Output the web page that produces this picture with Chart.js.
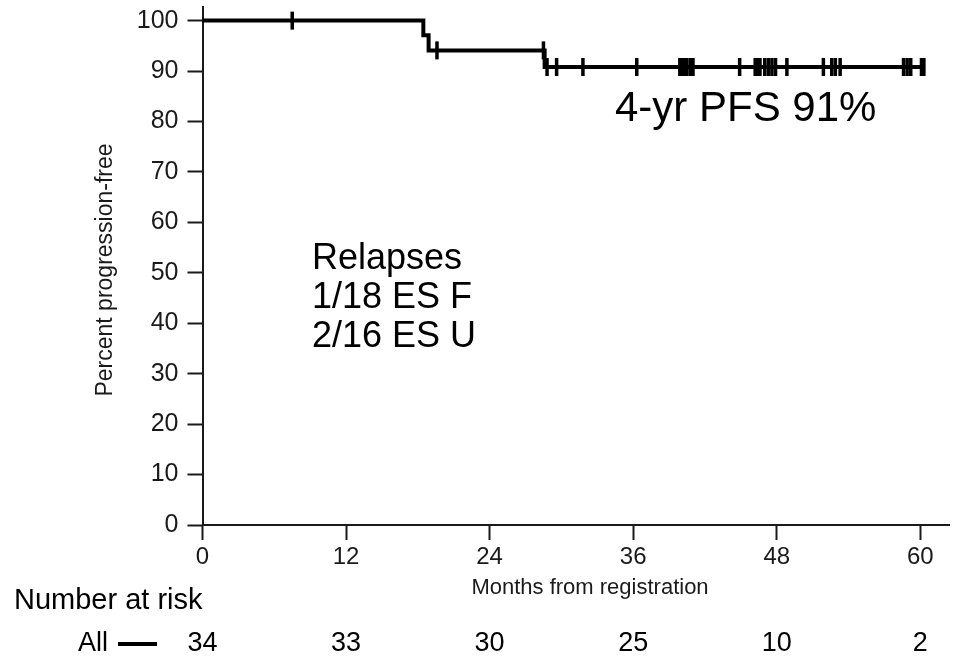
<!DOCTYPE html>
<html>
<head>
<meta charset="utf-8">
<script src="https://cdn.jsdelivr.net/npm/chart.js@4/dist/chart.umd.min.js"></script>
<style>
  body { margin: 0; background: #fff; }
  #km { display: block; }
</style>
</head>
<body>
<canvas id="km" width="960" height="663"></canvas>
<script>
// Kaplan-Meier steps (month of drop, percent after it)
const stepMonths = [0, 18.46, 18.9, 28.6, 60.4]
const stepPct = [100, 97.1, 94.1, 90.8, 90.8]

// censoring marks (months)
const censorMonths = [7.5, 19.6, 28.5, 28.8, 29.6, 31.8, 36.3,
  39.9, 40.1, 40.3, 40.5, 40.8, 41.0, 44.9, 46.2, 46.4, 46.6,
  47.0, 47.3, 47.6, 47.9, 48.85, 51.9, 52.6, 52.9, 53.3,
  58.6, 58.9, 59.2, 60.1, 60.3]

const xTicks = [0, 12, 24, 36, 48, 60]
const yTicks = [0, 10, 20, 30, 40, 50, 60, 70, 80, 90, 100]
const atRisk = [34, 33, 30, 25, 10, 2]

const relapseLines = ["Relapses", "1/18 ES F", "2/16 ES U"]
const pfsLabel = "4-yr PFS 91%"

const FONT = "'Liberation Sans', Arial, sans-serif"
const INK = '#1a1a1a'

// level of the curve at a given month (last step at or before it)
function levelAt(m) {
    let v = stepPct[0]
    stepMonths.forEach((t, i) => { if (t <= m) v = stepPct[i] })
    return v
}

const textPlugin = {
    id: 'kmText',
    afterDraw(chart) {
        const { ctx } = chart
        const x = chart.scales.x
        ctx.save()
        ctx.fillStyle = '#000'

        // annotations inside the plot
        ctx.textAlign = 'left'
        ctx.textBaseline = 'alphabetic'
        ctx.font = `42px ${FONT}`
        ctx.fillText(pfsLabel, 615, 121)

        ctx.font = `36px ${FONT}`
        relapseLines.forEach((t, i) => ctx.fillText(t, 312, 269 + i * 39))

        // axis titles
        ctx.fillStyle = INK
        ctx.font = `22px ${FONT}`
        ctx.textAlign = 'center'
        ctx.fillText('Months from registration', 590, 594)

        ctx.save()
        ctx.translate(112, 270)
        ctx.rotate(-Math.PI / 2)
        ctx.font = `23px ${FONT}`
        ctx.fillText('Percent progression-free', 0, 0)
        ctx.restore()

        // number at risk table
        ctx.fillStyle = '#000'
        ctx.font = `29px ${FONT}`
        ctx.textAlign = 'left'
        ctx.fillText('Number at risk', 14, 609)
        ctx.font = `27px ${FONT}`
        ctx.textAlign = 'right'
        ctx.fillText('All', 108, 651)
        ctx.fillRect(118, 642, 39, 4)
        ctx.textAlign = 'center'
        atRisk.forEach((n, i) => {
            ctx.fillText(String(n), x.getPixelForValue(xTicks[i]), 651)
        })
        ctx.restore()
    }
}

new Chart(document.getElementById('km'), {
    type: 'line',
    data: {
        datasets: [{
            label: 'All',
            data: stepMonths.map((m, i) => ({ x: m, y: stepPct[i] })),
            stepped: 'before',
            borderColor: '#000',
            borderWidth: 4,
            pointRadius: 0,
            fill: false
        }, {
            label: 'Censored',
            data: censorMonths.map(m => ({ x: m, y: levelAt(m) })),
            showLine: false,
            pointStyle: 'line',
            rotation: 90,
            pointRadius: 9,
            pointBorderWidth: 3.5,
            pointBorderColor: '#000',
            pointBackgroundColor: '#000'
        }]
    },
    options: {
        responsive: false,
        animation: false,
        clip: false,
        layout: { autoPadding: false, padding: { top: 7, right: 11, left: 0, bottom: 0 } },
        plugins: { legend: { display: false }, tooltip: { enabled: false } },
        scales: {
            x: {
                type: 'linear',
                min: 0,
                max: 62.4,
                afterBuildTicks: s => { s.ticks = xTicks.map(v => ({ value: v })) },
                afterFit: s => { s.height = 138; s.paddingLeft = 0; s.paddingRight = 0 },
                border: { color: INK, width: 2 },
                grid: { drawOnChartArea: false, tickLength: 15, tickWidth: 2, tickColor: INK },
                ticks: { font: { family: FONT, size: 24 }, color: INK, padding: 3, maxRotation: 0 }
            },
            y: {
                type: 'linear',
                min: 0,
                max: 102.7,
                afterBuildTicks: s => { s.ticks = yTicks.map(v => ({ value: v })) },
                afterFit: s => { s.width = 202.5; s.paddingTop = 0; s.paddingBottom = 0 },
                border: { color: INK, width: 2 },
                grid: { drawOnChartArea: false, tickLength: 15, tickWidth: 2, tickColor: INK },
                ticks: { font: { family: FONT, size: 25 }, color: INK, padding: 9 }
            }
        }
    },
    plugins: [textPlugin]
})
</script>
</body>
</html>
